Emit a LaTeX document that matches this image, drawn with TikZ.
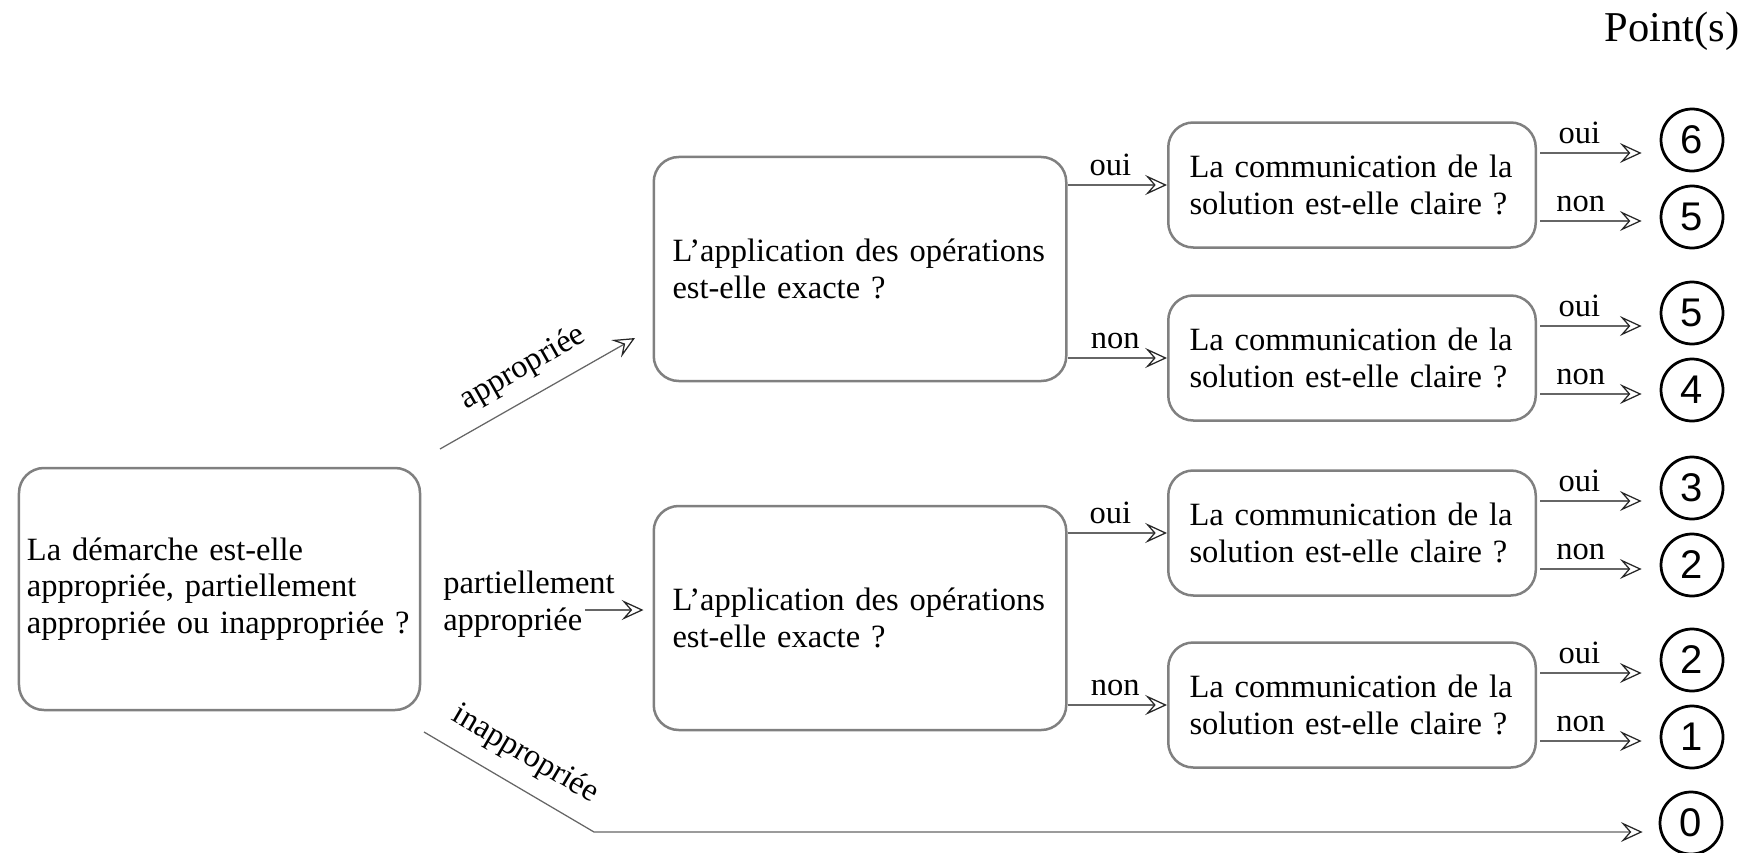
\documentclass[tikz,border=0pt]{standalone}
\usepackage{fontspec}
\setmainfont{Liberation Serif}
\newfontfamily\scorefont{Liberation Sans}
\usetikzlibrary{arrows.meta}

\tikzset{
  qbox/.style={draw=black!50, line width=1pt, rounded corners=10pt, align=left,
    inner ysep=0pt, font=\fontsize{13}{14.7}\selectfont},
  mainbox/.style={qbox, text width=154pt, inner xsep=3.2pt, minimum height=96.8pt},
  opbox/.style={qbox, text width=150pt, inner xsep=7.5pt, minimum height=89.6pt},
  combox/.style={qbox, text width=130pt, inner xsep=8.5pt, minimum height=50pt},
  score/.style={circle, draw, line width=1.1pt, minimum size=24.8pt, inner sep=0pt,
    font=\scorefont\fontsize{16}{16}\selectfont},
  arr/.style={draw=black!60, line width=0.5pt,
    -{Stealth[open, length=8.7pt, width=8pt, inset=3.5pt, color=black!85]}},
  lbl/.style={font=\fontsize{13}{14.7}\selectfont, inner sep=1.5pt},
}

\begin{document}
\begin{tikzpicture}[x=0.4pt, y=-0.4pt]
  % 画布大小
  \useasboundingbox (0,0) rectangle (1748,853);

  % 标题
  \node[lbl, font=\fontsize{17}{19}\selectfont] (points) at (1672,31) {Point(s)};

  % 第一个问题
  \node[mainbox] (demarche) at (219.5,589)
    {La démarche est-elle\\appropriée, partiellement\\appropriée ou inappropriée ?};

  % 运算问题
  \node[opbox] (opA) at (860,269) {L’application des opérations\\est-elle exacte ?};
  \node[opbox] (opB) at (860,618) {L’application des opérations\\est-elle exacte ?};

  % 沟通问题
  \node[combox] (comA) at (1352,185) {La communication de la\\solution est-elle claire ?};
  \node[combox] (comB) at (1352,358) {La communication de la\\solution est-elle claire ?};
  \node[combox] (comC) at (1352,533) {La communication de la\\solution est-elle claire ?};
  \node[combox] (comD) at (1352,705) {La communication de la\\solution est-elle claire ?};

  % 零分
  \node[score] (zero) at (1691,823) {0};

  % 分数和箭头
  \foreach \b/\u/\l in {comA/6/5, comB/5/4, comC/3/2, comD/2/1} {
    \node[score] (\b-oui) at ([shift={(155,-45)}]\b.east) {\u};
    \node[score] (\b-non) at ([shift={(155,32)}]\b.east) {\l};
    \coordinate (\b-o) at ([shift={(3,-32)}]\b.east);
    \coordinate (\b-n) at ([shift={(3,36)}]\b.east);
    \draw[arr, shorten >=7.2pt] (\b-o) -- (\b-o -| \b-oui.west)
      node[lbl, pos=0.33, above=1.8pt] {oui};
    \draw[arr, shorten >=7.2pt] (\b-n) -- (\b-n -| \b-non.west)
      node[lbl, pos=0.34, above=1.8pt] {non};
  }

  % 运算到沟通
  \draw[arr] (comA.west -| opA.east) -- (comA.west) node[lbl, pos=0.43, above=1.8pt] {oui};
  \draw[arr] (comB.west -| opA.east) -- (comB.west) node[lbl, pos=0.48, above=1.8pt] {non};
  \draw[arr] (comC.west -| opB.east) -- (comC.west) node[lbl, pos=0.43, above=1.8pt] {oui};
  \draw[arr] (comD.west -| opB.east) -- (comD.west) node[lbl, pos=0.48, above=1.8pt] {non};

  % 第一个问题的三个分支
  \coordinate (ap-s) at (440,449);
  \coordinate (ap-e) at (635,338);
  \draw[arr] (ap-s) -- (ap-e) node[lbl, midway, sloped, above=4pt] {appropriée};

  \node[lbl, align=left, anchor=west] (partiel) at (439,604) {partiellement\\appropriée};
  \coordinate (pa-s) at (585,610);
  \draw[arr, shorten >=3.6pt] (pa-s) -- (pa-s -| opB.west);

  \coordinate (in-s) at (424,732);
  \coordinate (in-c) at (594,832);
  \draw[arr, shorten >=6.4pt] (in-s) -- node[lbl, sloped, above=5pt] {inappropriée}
    (in-c) -- (in-c -| zero.west);
\end{tikzpicture}
\end{document}
